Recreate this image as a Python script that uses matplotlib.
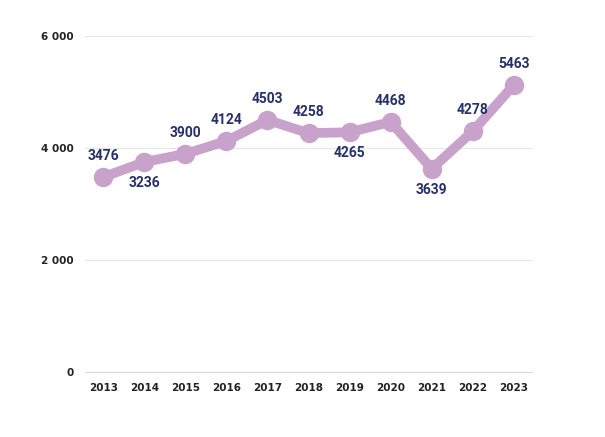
import matplotlib.pyplot as plt

years = ['2013','2014','2015','2016','2017','2018','2019','2020','2021','2022','2023']
values = [3480, 3750, 3895, 4125, 4500, 4265, 4280, 4465, 3630, 4300, 5125]
labels = ['3476','3236','3900','4124','4503','4258','4265','4468','3639','4278','5463']
above = [True, False, True, True, True, True, False, True, False, True, True]

fig = plt.figure(figsize=(6.05, 4.37), dpi=100)
ax = fig.add_axes([0.14, 0.148, 0.74, 0.77])
x = range(len(years))
ax.plot(x, values, color='#c9a2cc', lw=7, marker='o', ms=13, solid_capstyle='round', zorder=3)
for i, (v, l, a) in enumerate(zip(values, labels, above)):
    ax.annotate(l, (i, v), xytext=(0, 10 if a else -10), textcoords='offset points',
                ha='center', va='bottom' if a else 'top', fontsize=10, fontweight='bold',
                color='#27306b', family=['Roboto', 'DejaVu Sans'], fontstretch='condensed', zorder=4)
ax.set_ylim(0, 6000)
ax.set_xlim(-0.45, 10.45)
ax.set_yticks([0, 2000, 4000, 6000])
ax.set_yticklabels(['0', '2 000', '4 000', '6 000'])
ax.set_xticks(list(x))
ax.set_xticklabels(years)
ax.grid(axis='y', color='#e6e6e6', lw=0.8)
ax.set_axisbelow(True)
for s in ax.spines.values():
    s.set_visible(False)
ax.spines['bottom'].set_visible(True)
ax.spines['bottom'].set_color('#d9d9d9')
ax.tick_params(length=0, labelsize=7.5, pad=8)
for t in ax.get_xticklabels() + ax.get_yticklabels():
    t.set_fontweight('bold')
    t.set_color('#222222')
fig.savefig('out.png')
